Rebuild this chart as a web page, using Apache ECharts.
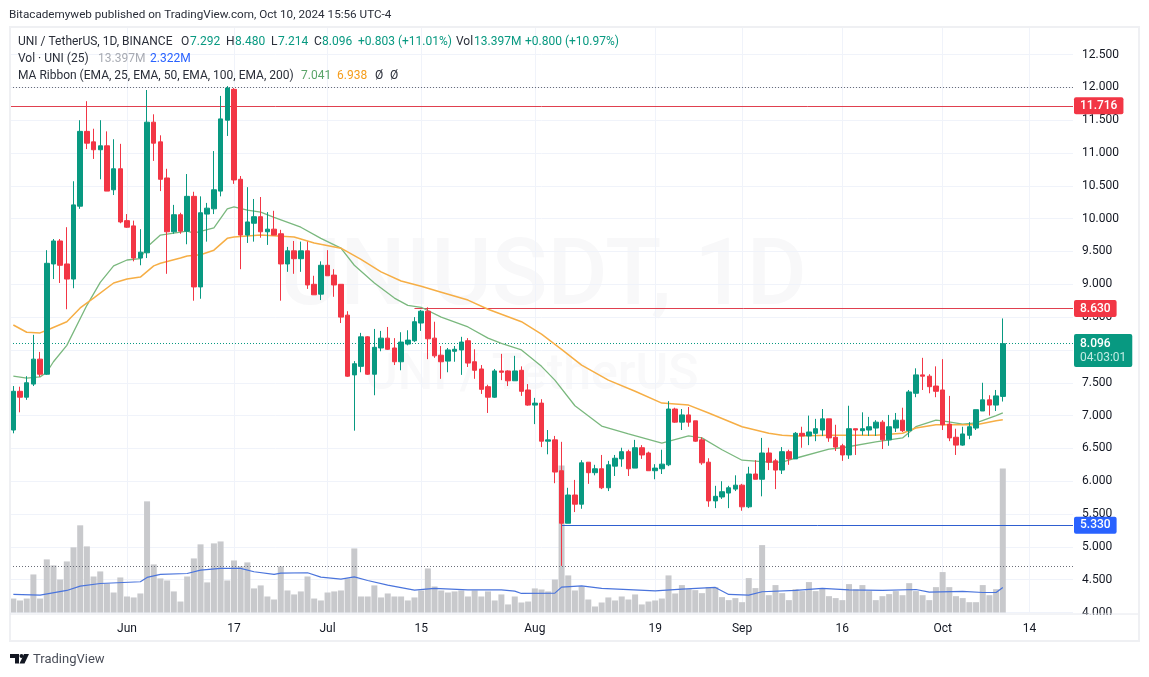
<!DOCTYPE html>
<html lang="en">

<head>
    <meta charset="UTF-8">
    <title>UNI / TetherUS, 1D</title>
    <script src="https://cdn.jsdelivr.net/npm/echarts@6/dist/echarts.min.js"></script>
    <style>
        html, body { margin: 0; padding: 0; background: #fff; }
        #main { width: 1149px; height: 677px; }
    </style>
</head>

<body>
    <div id="main"></div>

    <script>
        // daily candles, 15 May to 10 Oct 2024
        var opens = [6.78,7.37,7.28,7.48,7.86,7.63,9.31,9.66,9.31,9.08,10.19,11.33,11.17,11.05,11.11,10.44,10.76,9.97,9.89,9.40,
            9.48,11.47,11.17,10.62,9.80,10.06,9.81,10.34,8.96,10.07,10.15,10.42,11.50,11.97,10.60,9.75,9.93,10.03,9.80,9.84,
            9.77,9.31,9.51,9.39,9.51,9.00,8.85,9.29,9.14,9.00,8.53,7.62,7.75,8.20,7.63,8.03,8.18,8.03,7.82,8.09,
            8.14,8.41,8.59,8.18,7.92,7.83,7.98,8.00,8.14,7.82,7.71,7.44,7.28,7.68,7.68,7.53,7.69,7.39,7.16,7.19,
            6.61,6.63,6.16,5.36,5.79,5.65,6.29,6.13,6.19,5.90,6.23,6.34,6.45,6.20,6.51,6.43,6.16,6.19,6.25,7.10,
            6.90,7.01,6.92,6.63,6.29,5.70,5.76,5.82,5.88,5.94,5.61,6.11,6.03,6.43,6.31,6.17,6.45,6.34,6.73,6.69,
            6.73,6.78,6.95,6.67,6.54,6.40,6.80,6.77,6.78,6.81,6.90,6.63,6.81,6.93,6.77,7.34,7.62,7.60,7.45,7.39,
            6.87,6.67,6.55,6.70,6.81,7.07,7.24,7.16,7.292];
        var closes = [7.37,7.28,7.50,7.86,7.63,9.32,9.66,9.29,9.08,10.21,11.33,11.15,11.05,11.11,10.42,10.76,9.95,9.87,9.40,9.49,
            11.47,11.15,10.60,9.80,10.06,9.81,10.34,8.96,10.09,10.16,10.44,11.52,11.99,10.59,9.75,9.95,10.03,9.80,9.84,9.75,
            9.31,9.51,9.39,9.51,8.99,8.84,9.29,9.13,8.99,8.50,7.60,7.79,8.20,7.63,8.04,8.18,8.01,7.82,8.12,8.15,
            8.43,8.59,8.17,7.91,7.82,8.00,8.01,8.12,7.80,7.69,7.40,7.28,7.68,7.66,7.53,7.68,7.37,7.16,7.19,6.61,
            6.63,6.14,5.36,5.79,5.65,6.28,6.13,6.19,5.90,6.25,6.35,6.45,6.19,6.51,6.40,6.16,6.20,6.26,7.10,6.90,
            7.01,6.90,6.61,6.28,5.70,5.77,5.84,5.90,5.94,5.61,6.11,6.03,6.43,6.29,6.17,6.45,6.34,6.73,6.69,6.75,
            6.80,6.95,6.66,6.52,6.40,6.80,6.78,6.80,6.83,6.90,6.63,6.83,6.93,6.77,7.36,7.62,7.60,7.44,7.37,6.86,
            6.66,6.55,6.72,6.83,7.09,7.24,7.16,7.30,8.096];
        var lows = [6.73,7.05,7.24,7.45,7.59,7.62,9.08,9.02,8.62,8.94,10.15,11.06,10.91,10.60,10.42,10.36,9.93,9.86,9.35,9.29,
            9.40,10.88,10.42,9.16,9.77,9.77,9.61,8.75,8.78,9.65,10.07,10.34,11.26,10.53,9.23,9.63,9.65,9.71,9.60,9.75,
            8.75,9.19,9.16,9.19,8.93,8.84,8.76,9.13,8.81,8.41,7.59,6.77,7.66,7.62,7.31,7.98,8.00,7.77,7.69,8.07,
            8.12,8.29,7.86,7.88,7.56,7.66,7.82,7.62,7.74,7.56,7.33,7.04,7.27,7.54,7.45,7.53,7.30,7.15,6.87,6.52,
            6.41,5.97,4.71,5.36,5.53,5.58,5.96,6.09,5.88,5.85,6.08,6.22,6.08,6.20,6.34,6.16,6.03,6.11,6.23,6.89,
            6.78,6.83,6.60,6.25,5.61,5.59,5.73,5.59,5.85,5.55,5.59,6.03,5.77,6.17,5.88,6.11,6.25,6.34,6.51,6.55,
            6.61,6.69,6.60,6.46,6.31,6.34,6.40,6.70,6.69,6.69,6.49,6.54,6.75,6.75,6.67,7.28,7.39,7.34,7.28,6.78,
            6.61,6.40,6.54,6.64,6.78,7.07,7.00,7.07,7.214];
        var highs = [7.45,7.44,7.60,8.23,7.97,9.52,9.69,9.69,9.87,10.57,11.50,11.79,11.37,11.50,11.33,11.21,11.14,10.07,9.97,9.84,
            11.96,11.59,11.27,10.76,10.21,10.09,10.68,10.41,10.34,10.24,11.03,11.87,12.02,11.99,10.65,10.48,10.30,10.33,10.10,10.12,
            9.83,9.57,9.66,9.65,9.65,9.13,9.35,9.52,9.23,9.00,8.59,7.83,8.26,8.21,8.32,8.29,8.35,8.18,8.27,8.30,
            8.50,8.61,8.65,8.43,8.06,8.03,8.06,8.20,8.18,8.01,7.77,7.47,7.71,7.94,7.69,7.91,7.75,7.48,7.27,7.25,
            6.78,6.69,6.60,5.90,6.02,6.32,6.29,6.25,6.40,6.31,6.40,6.51,6.48,6.63,6.55,6.45,6.26,6.48,7.22,7.12,
            7.10,7.13,6.92,6.67,6.35,5.93,6.00,5.93,6.09,5.96,6.22,6.32,6.66,6.51,6.34,6.52,6.48,6.75,6.83,7.00,
            6.95,7.10,6.95,6.86,6.57,7.15,6.80,7.05,6.98,6.93,6.93,7.01,7.04,7.12,7.39,7.72,7.88,7.63,7.75,7.86,
            7.30,6.80,6.83,6.90,7.09,7.50,7.31,7.39,8.480];

        var volumes = [1.30,1.12,1.30,3.54,1.30,4.94,4.38,3.07,4.75,6.06,8.11,6.15,3.35,3.82,2.70,1.86,3.26,1.49,1.40,1.77,
            10.34,4.47,3.17,2.98,1.96,1.02,3.35,5.03,6.34,2.80,6.43,6.61,2.98,4.84,4.29,4.66,2.24,2.52,1.49,1.21,
            4.29,2.05,1.68,1.96,3.35,1.30,1.12,1.86,1.96,2.05,3.17,5.96,1.49,1.49,2.52,1.40,1.77,1.49,1.49,1.12,
            1.40,2.05,4.10,2.42,2.05,1.86,1.96,2.05,1.49,2.05,1.49,1.96,1.12,1.68,0.75,1.49,0.93,1.02,2.24,2.14,
            1.96,3.07,13.67,3.45,2.05,2.42,1.21,0.56,0.93,1.40,1.12,1.49,1.21,1.68,0.75,1.02,1.12,1.30,3.45,1.77,
            2.55,2.17,2.08,1.80,2.36,2.36,1.43,1.15,1.34,0.96,3.20,2.27,6.27,1.61,2.55,1.80,1.15,2.17,1.99,2.83,
            1.99,2.27,1.52,1.34,1.15,2.64,2.17,2.55,1.99,1.15,1.52,1.71,1.99,1.61,2.73,1.99,1.61,1.15,2.36,3.76,
            2.36,1.52,1.34,0.96,0.96,2.55,1.61,2.17,13.397];

        var ema25Bars = [0,2,4,5,6,8,11,13,15,17,19,20,22,26,27,30,32,33,35,37,39,43,46,49,51,54,57,59,61,64,68,71,73,76,79,81,84,88,92,97,101,103,106,109,113,115,117,122,124,129,133,135,138,139,142,144,147,148];
        var ema25 = [7.60,7.57,7.59,7.66,7.82,8.07,8.68,9.03,9.28,9.37,9.39,9.57,9.75,9.81,9.78,9.86,10.15,10.18,10.13,10.10,10.02,9.87,9.70,9.55,9.29,9.02,8.79,8.68,8.65,8.50,8.35,8.18,8.10,8.00,7.75,7.54,7.15,6.84,6.72,6.58,6.69,6.66,6.48,6.32,6.29,6.29,6.35,6.49,6.51,6.60,6.66,6.83,6.93,6.92,6.87,6.89,7.00,7.041];
        var ema50Bars = [0,2,4,5,8,10,12,15,17,19,21,22,25,26,28,30,32,33,37,42,45,49,52,55,58,61,64,68,71,76,79,82,85,89,93,97,101,104,109,113,115,117,122,129,133,135,138,141,144,147,148];
        var ema50 = [8.38,8.27,8.26,8.30,8.43,8.64,8.79,9.02,9.08,9.11,9.28,9.32,9.40,9.43,9.45,9.52,9.70,9.72,9.75,9.72,9.63,9.55,9.38,9.19,9.05,8.97,8.88,8.76,8.62,8.43,8.24,8.01,7.77,7.54,7.37,7.19,7.16,7.04,6.83,6.73,6.70,6.69,6.70,6.70,6.73,6.81,6.86,6.86,6.86,6.92,6.938];
        var volMaBars = [0,4,8,10,13,19,20,22,26,28,31,34,36,39,40,44,46,49,51,53,56,60,63,68,73,75,76,81,82,85,88,96,100,105,107,110,112,117,121,125,130,135,137,142,145,147,148];
        var volMa = [1.68,1.61,2.05,2.45,2.70,2.86,3.26,3.54,3.63,3.94,4.10,4.10,3.79,3.54,3.66,3.70,3.29,3.11,3.32,2.98,2.55,2.08,2.24,2.11,2.11,1.99,1.77,1.80,2.36,2.48,2.24,2.02,2.17,2.33,1.68,1.61,1.93,2.05,2.24,2.11,2.05,2.14,1.89,1.96,1.86,1.86,2.322];

        // drawn levels
        var topDottedLevel = 12.0;
        var bottomDottedLevel = 4.7;
        var lastPrice = 8.096;
        var resistanceHigh = 11.716;
        var resistanceMid = 8.63;
        var resistanceMidStart = 60;
        var supportLow = 5.33;
        var supportLowStart = 82;

        var tickDates = ['06-01', '06-17', '07-01', '07-15', '08-01', '08-19', '09-01', '09-16', '10-01', '10-14'];
        var tickLabels = ['Jun', '17', 'Jul', '15', 'Aug', '19', 'Sep', '16', 'Oct', '14'];

        // the axis runs on to 20 Oct, past the last candle
        var monthLengths = { 5: 31, 6: 30, 7: 31, 8: 31, 9: 30, 10: 31 };
        var categories = [];
        var month = 5, day = 15;
        for (var i = 0; i < 159; i++) {
            categories.push((month < 10 ? '0' + month : month) + '-' + (day < 10 ? '0' + day : day));
            day++;
            if (day > monthLengths[month]) { day = 1; month++; }
        }

        var candleData = [];
        for (var i = 0; i < opens.length; i++) {
            candleData.push([opens[i], closes[i], lows[i], highs[i]]);
        }
        function pairs(bars, values) {
            return bars.map(function (b, k) { return [b, values[k]]; });
        }
        function isTick(index, value) {
            return tickDates.indexOf(value) >= 0;
        }

        var GREEN = '#089981', RED = '#f23645', BLUE = '#2962ff';
        var FONT = 'Roboto, sans-serif';
        var GRID_LEFT = 10, GRID_WIDTH = 1063;

        function label(x, y, text, color, size) {
            return {
                type: 'text', x: x, y: y, z: 20, silent: true,
                style: { text: text, fill: color || '#2a2e39', font: (size || 12) + 'px ' + FONT, verticalAlign: 'middle' }
            };
        }

        var graphics = [
            // watermark
            { type: 'text', x: 280, y: 281, z: 0, silent: true, style: { text: 'UNIUSDT, 1D', fill: '#f8f8f9', font: '500 92px ' + FONT, verticalAlign: 'middle' } },
            { type: 'text', x: 365, y: 376, z: 0, silent: true, style: { text: 'UNI / TetherUS', fill: '#f9f9fa', font: '500 50px ' + FONT, verticalAlign: 'middle' } },
            // panel frame
            { type: 'rect', z: 15, silent: true, shape: { x: 1075, y: 615, width: 62, height: 24 }, style: { fill: '#fff' } },
            { type: 'rect', z: 16, silent: true, shape: { x: 10, y: 27, width: 1129, height: 614 }, style: { fill: 'none', stroke: '#eff0f3', lineWidth: 2 } },
            { type: 'line', z: 16, silent: true, shape: { x1: 10, y1: 614, x2: 1138, y2: 614 }, style: { stroke: '#e6e8ee', lineWidth: 1 } },
            // logo
            { type: 'polygon', z: 20, silent: true, shape: { points: [[10, 654], [19, 654], [19, 663.5], [15, 663.5], [15, 658], [10, 658]] }, style: { fill: '#131722' } },
            { type: 'circle', z: 20, silent: true, shape: { cx: 21.5, cy: 656, r: 2 }, style: { fill: '#131722' } },
            { type: 'polygon', z: 20, silent: true, shape: { points: [[24, 654], [29, 654], [24.5, 663.5], [19.5, 663.5]] }, style: { fill: '#131722' } },
            label(33, 660, 'TradingView', '#4a4e59', 13),
            // header
            label(9, 15, 'Bitacademyweb published on TradingView.com, Oct 10, 2024 15:56 UTC-4', '#2a2e39', 11.7),
            label(18, 41.5, 'UNI / TetherUS, 1D, BINANCE'),
            label(181, 41.5, 'O'), label(190, 41.5, '7.292', GREEN),
            label(226, 41.5, 'H'), label(235, 41.5, '8.480', GREEN),
            label(271, 41.5, 'L'), label(278, 41.5, '7.214', GREEN),
            label(314, 41.5, 'C'), label(322, 41.5, '8.096', GREEN),
            label(358, 41.5, '+0.803 (+11.01%)', GREEN),
            label(456, 41.5, 'Vol'), label(474, 41.5, '13.397M', GREEN),
            label(525, 41.5, '+0.800 (+10.97%)', GREEN),
            label(18, 59, 'Vol \u00b7 UNI (25)'),
            label(98, 59, '13.397M', '#a8abb3'),
            label(150, 59, '2.322M', BLUE),
            label(18, 76, 'MA Ribbon (EMA, 25, EMA, 50, EMA, 100, EMA, 200)'),
            label(301, 76, '7.041', '#5aa469'),
            label(337, 76, '6.938', '#f59c1a'),
            label(375, 76, '\u00d8'),
            label(390, 76, '\u00d8')
        ];

        function levelLabel(text, color) {
            return {
                show: true, position: 'end', distance: 1, formatter: text, color: '#fff',
                backgroundColor: color, borderRadius: 2, padding: [3, 6, 2, 6],
                fontFamily: FONT, fontSize: 12, fontWeight: 500
            };
        }
        // a level that starts at a bar and runs to the right edge of the plot
        function levelFromBar(startBar, value, text, color, lineColor) {
            return [
                { xAxis: startBar, yAxis: value, label: levelLabel(text, color), lineStyle: { color: lineColor, type: 'solid', width: 1 } },
                { xAxis: categories.length - 1, yAxis: value, x: GRID_LEFT + GRID_WIDTH }
            ];
        }

        var myChart = echarts.init(document.getElementById('main'), null, { renderer: 'canvas' });

        var option = {
            animation: false,
            backgroundColor: '#fff',
            textStyle: { fontFamily: FONT },
            graphic: graphics,
            grid: { left: GRID_LEFT, top: 27, width: GRID_WIDTH, height: 585.5, containLabel: false },
            xAxis: {
                type: 'category',
                data: categories,
                boundaryGap: true,
                axisLine: { show: false },
                axisTick: { show: false },
                axisLabel: {
                    interval: isTick,
                    margin: 10,
                    color: '#131722',
                    fontSize: 12,
                    fontFamily: FONT,
                    formatter: function (value) { return tickLabels[tickDates.indexOf(value)]; }
                },
                splitLine: { show: true, interval: isTick, alignWithLabel: true, lineStyle: { color: '#f0f3fa', width: 1 } }
            },
            yAxis: [
                {
                    type: 'value',
                    position: 'right',
                    min: 4,
                    max: 12.92,
                    interval: 0.5,
                    axisLine: { show: false },
                    axisTick: { show: false },
                    axisLabel: {
                        margin: 9,
                        showMaxLabel: false,
                        padding: [4, 0, 0, 0],
                        color: '#131722',
                        fontSize: 12,
                        fontFamily: FONT,
                        formatter: function (v) { return v.toFixed(3); }
                    },
                    splitLine: { lineStyle: { color: '#f0f3fa', width: 1 } }
                },
                { type: 'value', show: false, min: 0, max: 54.47, splitLine: { show: false } }
            ],
            series: [
                {
                    name: 'Vol',
                    type: 'bar',
                    yAxisIndex: 1,
                    data: volumes,
                    barWidth: 6,
                    itemStyle: { color: '#c8c9cc' },
                    z: 2
                },
                {
                    name: 'Vol MA',
                    type: 'line',
                    yAxisIndex: 1,
                    data: pairs(volMaBars, volMa),
                    symbol: 'none',
                    lineStyle: { color: '#4a74dc', width: 1.2 },
                    z: 3
                },
                {
                    name: 'EMA 25',
                    type: 'line',
                    data: pairs(ema25Bars, ema25),
                    symbol: 'none',
                    lineStyle: { color: '#7ab87e', width: 1.3 },
                    z: 5
                },
                {
                    name: 'EMA 50',
                    type: 'line',
                    data: pairs(ema50Bars, ema50),
                    symbol: 'none',
                    lineStyle: { color: '#f6ae45', width: 1.5 },
                    z: 5
                },
                {
                    name: 'UNI',
                    type: 'candlestick',
                    data: candleData,
                    barWidth: 5,
                    itemStyle: { color: GREEN, color0: RED, borderColor: GREEN, borderColor0: RED, borderWidth: 1 },
                    z: 6,
                    markLine: {
                        silent: true,
                        symbol: 'none',
                        animation: false,
                        data: [
                            { yAxis: topDottedLevel, label: { show: false }, lineStyle: { color: '#6a6d78', type: [1, 2], width: 1 } },
                            { yAxis: bottomDottedLevel, label: { show: false }, lineStyle: { color: '#6a6d78', type: [1, 2], width: 1 } },
                            { yAxis: resistanceHigh, label: levelLabel('11.716', RED), lineStyle: { color: '#e0404f', type: 'solid', width: 1 } },
                            { yAxis: lastPrice, label: {
                                show: true, position: 'end', distance: 1, offset: [0, 7],
                                formatter: '{a|8.096}\n{b|04:03:01}', backgroundColor: GREEN, borderRadius: 2, padding: [3, 6, 2, 6],
                                rich: {
                                    a: { color: '#fff', fontSize: 12, fontWeight: 500, fontFamily: FONT, lineHeight: 14 },
                                    b: { color: '#c2ebe3', fontSize: 12, fontFamily: FONT, lineHeight: 14 }
                                }
                            }, lineStyle: { color: GREEN, type: [1, 2], width: 1 } },
                            levelFromBar(resistanceMidStart, resistanceMid, '8.630', RED, '#e0404f'),
                            levelFromBar(supportLowStart, supportLow, '5.330', BLUE, '#2f5fd0')
                        ]
                    }
                }
            ]
        };

        myChart.setOption(option);
    </script>
</body>

</html>
